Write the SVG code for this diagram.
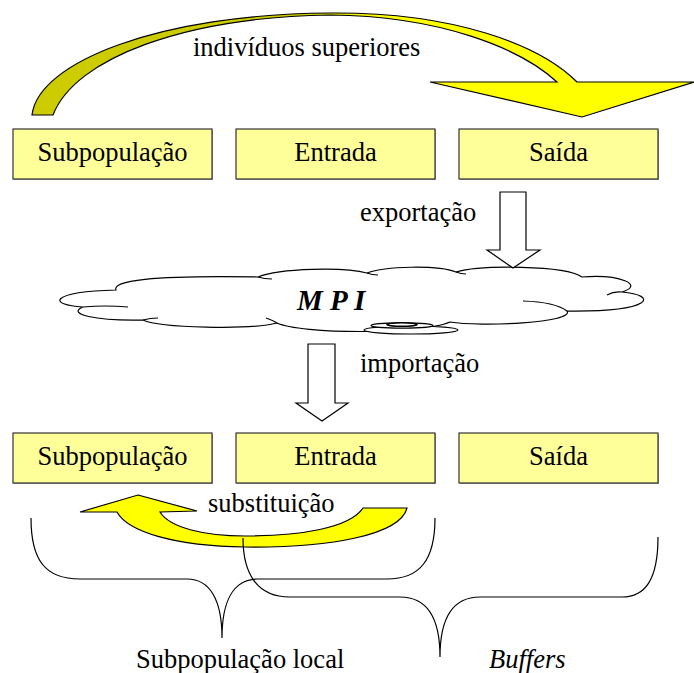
<svg xmlns="http://www.w3.org/2000/svg" width="694" height="673" viewBox="0 0 694 673">
  <style>
    .box { fill: #FFFF99; stroke: #333333; stroke-width: 1.2; }
    .shadow { fill: #A0A0A0; }
    text { font-family: 'Liberation Serif', 'Times New Roman', Times, 'DejaVu Serif', serif; font-size: 26.5px; fill: #000000; }
    text.big { font-size: 29px; font-weight: bold; font-style: italic; }
    .mid { text-anchor: middle; }
    .ln { fill: none; stroke: #000000; stroke-width: 1.2; }
    .hollow { fill: #FFFFFF; stroke: #000000; stroke-width: 1.2; stroke-linejoin: miter; }
    .cloud { fill: #FFFFFF; stroke: #000000; stroke-width: 1.2; }
  </style>
  <defs>
    <linearGradient id="arcFill" gradientUnits="userSpaceOnUse" x1="32" y1="0" x2="694" y2="0">
      <stop offset="0" stop-color="#CCCC00"/>
      <stop offset="0.40" stop-color="#CCCC00"/>
      <stop offset="0.52" stop-color="#FFFF00"/>
      <stop offset="1" stop-color="#FFFF00"/>
    </linearGradient>
  </defs>

  <rect width="694" height="673" fill="#FFFFFF"/>

  <!-- curved arrow: best individuals go from the subpopulation to the output buffer -->
  <g id="arrow-superiores">
    <path d="M32,115 C38,62 160,14 330,13 C455,12 540,45 577,82 L694,82 L582,117 L430,82 L557,82 C520,48 440,16 330,15 C185,17 75,58 53,115 Z"
          fill="url(#arcFill)" stroke="#000000" stroke-width="1.2" stroke-linejoin="miter"/>
    <text x="193" y="56">indivíduos superiores</text>
  </g>

  <!-- upper row of buffers -->
  <g id="sub1">
    <rect class="shadow" x="14" y="130" width="199" height="50"/>
    <rect class="box" x="13" y="129" width="199" height="50"/>
    <text class="mid" x="112.5" y="161">Subpopulação</text>
  </g>
  <g id="entrada1">
    <rect class="shadow" x="237" y="130" width="199" height="50"/>
    <rect class="box" x="236" y="129" width="199" height="50"/>
    <text class="mid" x="335.5" y="161">Entrada</text>
  </g>
  <g id="saida1">
    <rect class="shadow" x="460" y="130" width="199" height="50"/>
    <rect class="box" x="459" y="129" width="199" height="50"/>
    <text class="mid" x="558.5" y="161">Saída</text>
  </g>

  <!-- message passing layer -->
  <g id="mpi">
    <path class="cloud" d="M116,290 C112,281 150,275 258,277 C280,268 345,267 367,273 C385,266 438,265 456,272 C480,265 565,265 582,277 C620,274 645,285 622,292 C658,295 655,312 567,311 C575,323 480,327 450,322 C420,335 300,334 277,323 C250,330 160,328 143,320 C95,321 66,314 83,307 C48,305 48,292 116,290 Z"/>
    <path class="ln" d="M83,307 Q105,305 128,307"/>
    <path class="ln" d="M258,277 Q264,279 272,279"/>
    <path class="ln" d="M367,273 Q372,275 378,275"/>
    <path class="ln" d="M456,272 Q461,274 466,274"/>
    <path class="ln" d="M523,301 Q555,302 567,311"/>
    <path class="ln" d="M607,295 Q614,291 622,292"/>
    <path class="ln" d="M277,323 Q272,320 266,318"/>
    <path class="ln" d="M143,320 Q150,318 158,318"/>
    <ellipse cx="411" cy="330" rx="47" ry="4" fill="#FFFFFF" stroke="#000000" stroke-width="1.2"/>
    <ellipse cx="402" cy="325.5" rx="31" ry="2.6" fill="#FFFFFF" stroke="#000000" stroke-width="1.2"/>
    <ellipse cx="402" cy="324.5" rx="15" ry="1.8" fill="#FFFFFF" stroke="#000000" stroke-width="1.6"/>
    <text class="big" x="297" y="310">M P I</text>
  </g>

  <!-- export / import block arrows -->
  <g id="exportacao">
    <path class="hollow" d="M500,192 L526,192 L526,250 L540,250 L513,268 L487,250 L500,250 Z"/>
    <text x="360" y="221">exportação</text>
  </g>
  <g id="importacao">
    <path class="hollow" d="M308,344 L335,344 L335,403 L348,403 L322,421 L296,403 L308,403 Z"/>
    <text x="360" y="372">importação</text>
  </g>

  <!-- lower row of buffers -->
  <g id="sub2">
    <rect class="shadow" x="14" y="434" width="199" height="50"/>
    <rect class="box" x="13" y="433" width="199" height="50"/>
    <text class="mid" x="112.5" y="465">Subpopulação</text>
  </g>
  <g id="entrada2">
    <rect class="shadow" x="237" y="434" width="199" height="50"/>
    <rect class="box" x="236" y="433" width="199" height="50"/>
    <text class="mid" x="335.5" y="465">Entrada</text>
  </g>
  <g id="saida2">
    <rect class="shadow" x="460" y="434" width="199" height="50"/>
    <rect class="box" x="459" y="433" width="199" height="50"/>
    <text class="mid" x="558.5" y="465">Saída</text>
  </g>

  <!-- replacement arrow from the input buffer back to the subpopulation -->
  <g id="arrow-substituicao">
    <path d="M138,495 L197,511 L160,512 C170,528 205,536 245,536 C300,536 350,528 363,508 L407,508 C400,535 330,548 245,547 C175,546 128,532 117,512 L80,512 Z"
          fill="#FFFF00" stroke="#000000" stroke-width="1.2" stroke-linejoin="miter"/>
    <text x="208" y="512">substituição</text>
  </g>

  <!-- grouping braces -->
  <g id="connectors">
    <path class="ln" d="M31,518 C31,560 45,579 80,579 L187,579 C210,579 222,600 222,638 C222,600 234,579 258,579 L387,579 C420,579 435,560 435,518"/>
    <path class="ln" d="M243,538 C243,575 258,597 290,597 L400,597 C425,597 440,615 440,657 C440,615 455,597 480,597 L622,597 C645,597 658,580 658,537"/>
  </g>

  <g id="labels">
    <text x="136" y="668">Subpopulação local</text>
    <text x="489" y="668" font-style="italic">Buffers</text>
  </g>
</svg>
